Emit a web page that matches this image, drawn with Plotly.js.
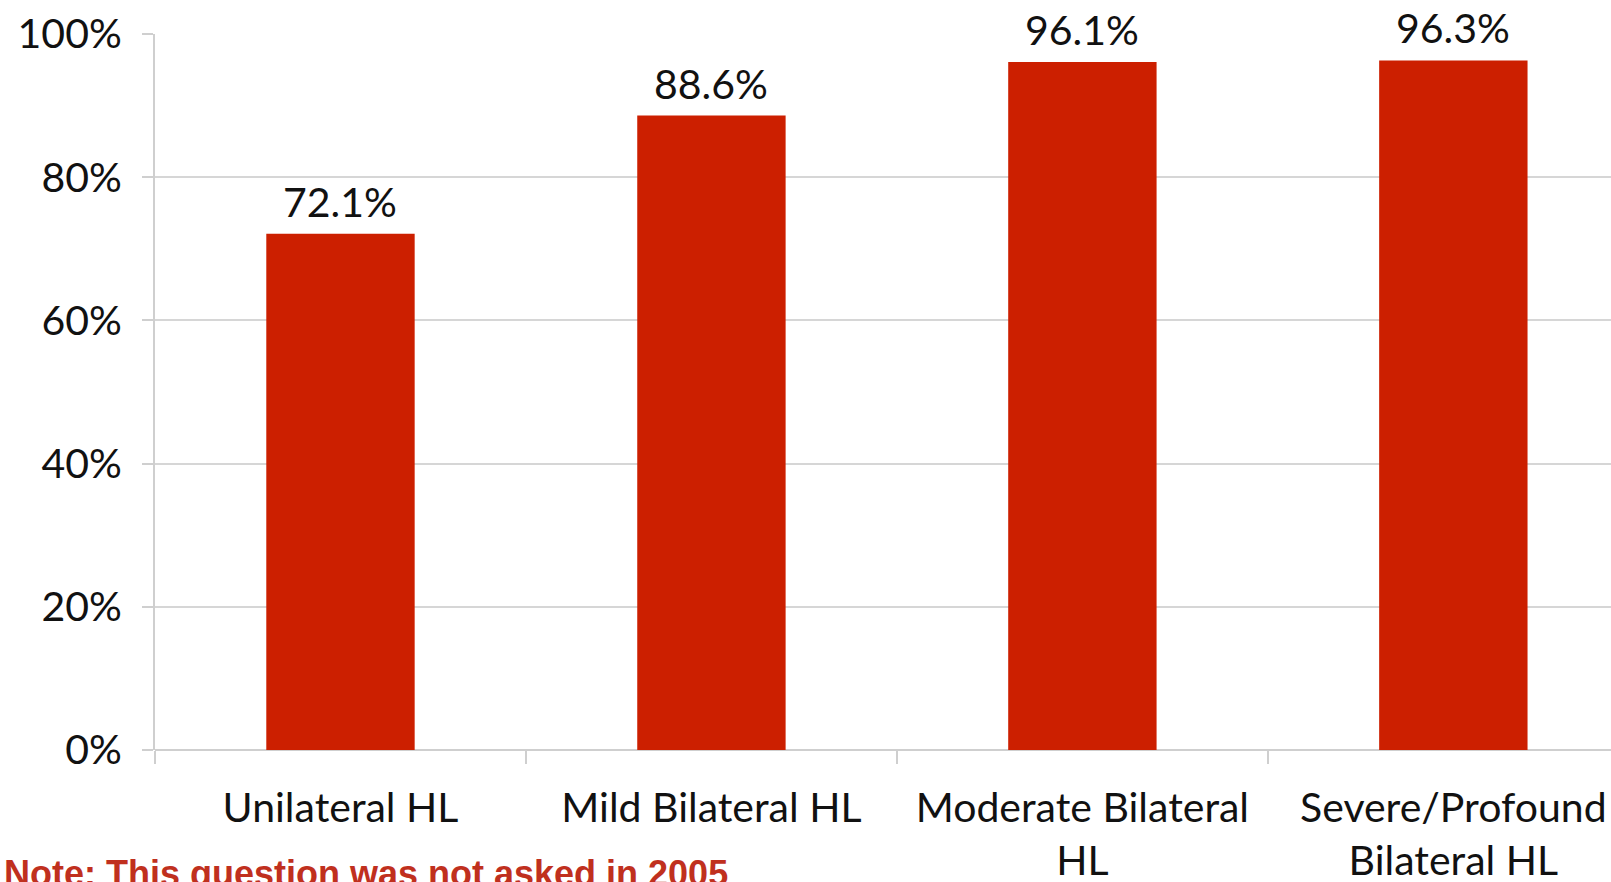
<!DOCTYPE html>
<html>
<head>
<meta charset="utf-8">
<script src="https://cdn.plot.ly/plotly-3.0.1.min.js"></script>
<style>html,body{margin:0;padding:0;background:#fff;}#chart{width:1611px;height:882px;}</style>
</head>
<body>
<div id="chart"></div>
<script>
const categories = ["Unilateral HL", "Mild Bilateral HL", "Moderate Bilateral<br>HL", "Severe/Profound<br>Bilateral HL"];
const values = [72.1, 88.6, 96.1, 96.3];
const yTickVals = [0, 20, 40, 60, 80, 100];
const yTickText = ["0%", "20%", "40%", "60%", "80%", "100%"];
const noteText = "Note: This question was not asked in 2005";

const FONT = "Lato, 'Noto Sans', sans-serif";

const trace = {
  type: "bar",
  x: categories,
  y: values,
  marker: {color: "#cc1f00"},
  width: 0.4,
  hoverinfo: "skip"
};

const labelAnnotations = categories.map((c, i) => ({
  x: c, y: values[i], xref: "x", yref: "y",
  xanchor: "center", yanchor: "bottom",
  yshift: 6,
  text: values[i].toFixed(1) + "%",
  showarrow: false,
  font: {family: FONT, size: 41, color: "#111"}
}));

const layout = {
  width: 1611,
  height: 882,
  margin: {l: 155, r: 0, t: 34, b: 132},
  paper_bgcolor: "#fff",
  plot_bgcolor: "#fff",
  showlegend: false,
  font: {family: FONT, size: 41, color: "#111"},
  xaxis: {
    type: "category",
    range: [-0.5, 3.425],
    tickson: "boundaries",
    ticks: "outside",
    ticklen: 13,
    tickwidth: 2,
    tickcolor: "#cfcfcf",
    showgrid: false,
    showline: false,
    zeroline: false,
    tickfont: {family: FONT, size: 41, color: "#111"},
    ticklabelstandoff: 30
  },
  yaxis: {
    range: [0, 100],
    tickvals: yTickVals,
    ticktext: yTickText,
    ticks: "outside",
    ticklen: 11,
    tickwidth: 2,
    tickcolor: "#cfcfcf",
    showgrid: true,
    gridcolor: "#d6d6d6",
    gridwidth: 2,
    showline: true,
    linecolor: "#cfcfcf",
    linewidth: 2,
    zeroline: true,
    zerolinecolor: "#cfcfcf",
    zerolinewidth: 2,
    tickfont: {family: FONT, size: 41, color: "#111"},
    ticklabelstandoff: 12
  },
  annotations: labelAnnotations.concat([{
    xref: "paper", yref: "paper",
    x: -153 / 1456, y: (750 - 851) / 716,
    xanchor: "left", yanchor: "top",
    text: "<b>" + noteText + "</b>",
    showarrow: false,
    font: {family: "'Liberation Sans', Arial, sans-serif", size: 36, color: "#c0301e"}
  }])
};

Plotly.newPlot("chart", [trace], layout, {staticPlot: true, displayModeBar: false});
</script>
</body>
</html>
